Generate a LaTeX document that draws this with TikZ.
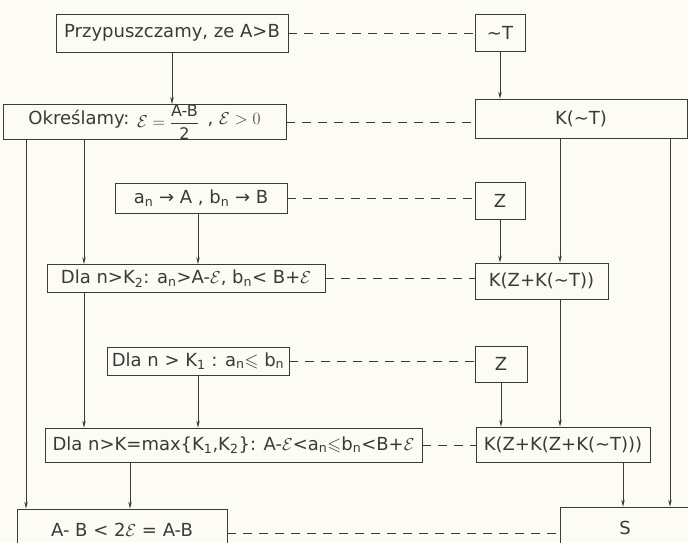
\documentclass[tikz,border=0pt]{standalone}
\usepackage{amssymb}
\usepackage{fontspec}
\setmainfont{DejaVu Sans}
\usetikzlibrary{arrows.meta}
\definecolor{ink}{HTML}{3A3A3A}
\definecolor{paper}{HTML}{FDFCF4}
\newcommand{\scE}{\ensuremath{\mathcal{E}}}
\newcommand{\sbs}[1]{\textsubscript{#1}}
\begin{document}
\begin{tikzpicture}[x=1pt,y=-1pt,
  box/.style={draw=ink, line width=0.7pt, inner sep=0pt, text=ink,
    font=\fontsize{18}{21}\selectfont},
  arr/.style={draw=ink, line width=0.7pt, -{Stealth[length=7pt,width=3.5pt]}},
  dsh/.style={draw=ink, line width=0.6pt, dash pattern=on 9pt off 7pt}]
\fill[paper] (0,0) rectangle (688,542);
\clip (0,0) rectangle (688,542);
% left column
\node[box, minimum width=232pt, minimum height=38pt] (P) at (172,33) {Przypuszczamy, ze A>B};
\node[box, minimum width=283pt, minimum height=31pt] (O) at (144.5,122)
  {Określamy: \raisebox{-3pt}{$\displaystyle\mathcal{E}=\frac{\mbox{\fontsize{16}{17}\selectfont A-B}}{\mbox{\fontsize{16}{17}\selectfont 2}}$}\, , $\mathcal{E}>0$};
\node[box, minimum width=172pt, minimum height=30pt] (A) at (201,198)
  {a\sbs{n} → A , b\sbs{n} → B};
\node[box, minimum width=278pt, minimum height=28pt] (D2) at (186,278.5)
  {Dla n>K\sbs{2}: a\sbs{n}>A-\scE, b\sbs{n}< B+\scE};
\node[box, minimum width=182pt, minimum height=28pt] (D1) at (198,361)
  {Dla n > K\sbs{1} : a\sbs{n}$\leqslant$ b\sbs{n}};
\node[box, minimum width=377pt, minimum height=34pt] (DK) at (233.5,445)
  {Dla n>K=max\{K\sbs{1},K\sbs{2}\}: A-\scE<a\sbs{n}$\leqslant$b\sbs{n}<B+\scE};
\node[box, minimum width=210pt, minimum height=42pt] (F) at (122,530)
  {A- B < 2\scE\ = A-B};
% right column
\node[box, minimum width=50pt, minimum height=37pt] (T) at (500,32.5) {∼T};
\node[box, minimum width=212pt, minimum height=39pt] (KT) at (581,118.5) {K(∼T)};
\node[box, minimum width=50pt, minimum height=37pt] (Z1) at (500,200.5) {Z};
\node[box, minimum width=133pt, minimum height=36pt] (KZ) at (541.5,281) {K(Z+K(∼T))};
\node[box, minimum width=52pt, minimum height=36pt] (Z2) at (501,364) {Z};
\node[box, minimum width=174pt, minimum height=35pt] (KZZ) at (563,444.5) {K(Z+K(Z+K(∼T)))};
\node[box, minimum width=130pt, minimum height=42pt] (S) at (625,528) {S};
% column coordinates
\coordinate (cL) at (26,0);
\coordinate (cM) at (84,0);
\coordinate (cN) at (130,0);
\coordinate (cR1) at (560,0);
\coordinate (cR2) at (670,0);
\coordinate (cS) at (623,0);
% arrows
\draw[arr] (P.south) -- (P.south |- O.north);
\draw[arr] (T.south) -- (T.south |- KT.north);
\draw[arr] (O.south -| cL) -- (F.north -| cL);
\draw[arr] (O.south -| cM) -- (D2.north -| cM);
\draw[arr] (A.south -| D1.south) -- (D2.north -| D1.south);
\draw[arr] (D2.south -| cM) -- (DK.north -| cM);
\draw[arr] (D1.south) -- (D1.south |- DK.north);
\draw[arr] (DK.south -| cN) -- (F.north -| cN);
\draw[arr] (KT.south -| cR1) -- (KZ.north -| cR1);
\draw[arr] (KT.south -| cR2) -- (S.north -| cR2);
\draw[arr] (Z1.south) -- (Z1.south |- KZ.north);
\draw[arr] (KZ.south -| cR1) -- (KZZ.north -| cR1);
\draw[arr] (Z2.south) -- (Z2.south |- KZZ.north);
\draw[arr] (KZZ.south -| cS) -- (S.north -| cS);
% dashed links
\draw[dsh] (P.east) -- (P.east -| T.west);
\draw[dsh] (O.east) -- (O.east -| KT.west);
\draw[dsh] (A.east) -- (A.east -| Z1.west);
\draw[dsh] (D2.east) -- (D2.east -| KZ.west);
\draw[dsh] (D1.east) -- (D1.east -| Z2.west);
\draw[dsh] (DK.east) -- (DK.east -| KZZ.west);
\draw[dsh] ([yshift=-3pt]F.east) -- ([yshift=-3pt]F.east -| S.west);
\end{tikzpicture}
\end{document}
